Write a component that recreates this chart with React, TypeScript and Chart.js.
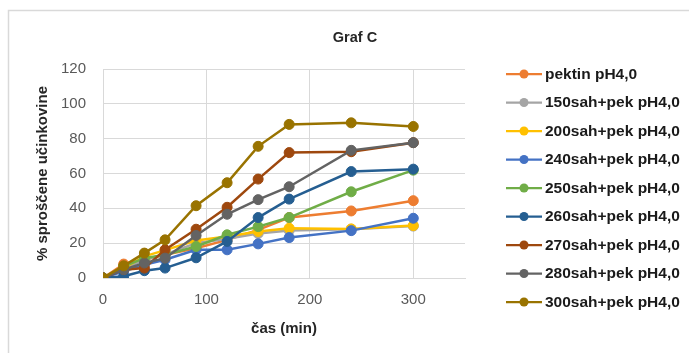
import React, { useEffect, useRef } from "react";
import { Chart, registerables } from "chart.js";

Chart.register(...registerables);

const times = [0, 20, 40, 60, 90, 120, 150, 180, 240, 300];

const seriesNames = [
  "pektin pH4,0",
  "150sah+pek pH4,0",
  "200sah+pek pH4,0",
  "240sah+pek pH4,0",
  "250sah+pek pH4,0",
  "260sah+pek pH4,0",
  "270sah+pek pH4,0",
  "280sah+pek pH4,0",
  "300sah+pek pH4,0",
];

const seriesColors = [
  "#ED7D31",
  "#A5A5A5",
  "#FFC000",
  "#4472C4",
  "#70AD47",
  "#255E91",
  "#9E480E",
  "#636363",
  "#997300",
];

const pektin = [0, 8, 10.5, 13.3, 17.1, 21.9, 27.6, 34.7, 38.5, 44.4];
const sah150 = [0, 5, 10.5, 13.5, 20, 22.5, 25.5, 27.3, 28, 29.8];
const sah200 = [0, 5.7, 12.4, 16, 21.5, 23.8, 26.7, 28.6, 28.2, 30.1];
const sah240 = [0, 3.8, 7.6, 10.5, 16.2, 16.2, 19.6, 23.2, 27.2, 34.3];
const sah250 = [0, 6.7, 11.4, 13.3, 18.1, 24.8, 29.5, 34.7, 49.5, 61.9];
const sah260 = [0, 1, 4.2, 5.7, 11.6, 21, 34.7, 45.3, 61.1, 62.5];
const sah270 = [0, 4.8, 5.7, 16.2, 28, 40.6, 56.8, 72, 72.5, 77.7];
const sah280 = [0, 4.8, 8.6, 11.4, 24.4, 36.6, 45, 52.4, 73.3, 77.7];
const sah300 = [0, 7, 14.3, 21.9, 41.5, 54.7, 75.6, 88.2, 89.1, 87.0];

const seriesValues = [pektin, sah150, sah200, sah240, sah250, sah260, sah270, sah280, sah300];

const xTicks = [0, 100, 200, 300];
const yTicks = [0, 20, 40, 60, 80, 100, 120];

const chartTitle = "Graf C";
const xTitle = "čas (min)";
const yTitle = "% sproščene učinkovine";

const FONT = "'Liberation Sans', Arial, sans-serif";

const framePlugin = {
  id: "frame",
  beforeDraw(chart: any) {
    const ctx = chart.ctx;
    ctx.save();
    ctx.fillStyle = "#ffffff";
    ctx.fillRect(0, 0, chart.width, chart.height);
    ctx.strokeStyle = "#d9d9d9";
    ctx.lineWidth = 1.5;
    ctx.strokeRect(8.5, 10.5, chart.width + 20, chart.height + 20);
    ctx.restore();
  },
  afterDraw(chart: any) {
    const ctx = chart.ctx;
    ctx.save();
    ctx.fillStyle = "#262626";
    ctx.font = `bold 14.5px ${FONT}`;
    ctx.textAlign = "center";
    ctx.textBaseline = "middle";
    ctx.fillText(chartTitle, 355, 38);

    chart.data.datasets.forEach((ds: any, i: number) => {
      const y = 74 + i * 28.5;
      ctx.strokeStyle = ds.borderColor;
      ctx.lineWidth = 2.25;
      ctx.beginPath();
      ctx.moveTo(506, y);
      ctx.lineTo(542, y);
      ctx.stroke();
      ctx.fillStyle = ds.borderColor;
      ctx.beginPath();
      ctx.arc(524, y, 4.5, 0, Math.PI * 2);
      ctx.fill();
      ctx.fillStyle = "#1a1a1a";
      ctx.font = `bold 15.5px ${FONT}`;
      ctx.textAlign = "left";
      ctx.textBaseline = "middle";
      ctx.fillText(ds.label, 545, y + 0.5);
    });
    ctx.restore();
  },
};

export default function App() {
  const canvasRef = useRef<HTMLCanvasElement | null>(null);

  useEffect(() => {
    if (!canvasRef.current) return;
    const n = seriesNames.length;
    const chart = new Chart(canvasRef.current, {
      type: "line",
      data: {
        datasets: seriesNames.map((name, i) => ({
          label: name,
          data: times.map((t, j) => ({ x: t, y: seriesValues[i][j] })),
          borderColor: seriesColors[i],
          backgroundColor: seriesColors[i],
          pointBackgroundColor: seriesColors[i],
          pointBorderColor: seriesColors[i],
          borderWidth: 2.5,
          pointRadius: 5,
          pointBorderWidth: 1,
          tension: 0,
          order: n - i,
        })),
      },
      options: {
        animation: false,
        responsive: false,
        maintainAspectRatio: false,
        layout: { padding: { top: 69, right: 224, left: 0, bottom: 0 } },
        plugins: {
          legend: { display: false },
          title: { display: false },
          tooltip: { enabled: false },
        },
        scales: {
          x: {
            type: "linear",
            min: 0,
            max: 350,
            afterBuildTicks: (scale: any) => {
              scale.ticks = xTicks.map((v) => ({ value: v }));
            },
            afterFit: (scale: any) => {
              scale.height = 75;
            },
            ticks: {
              padding: 13,
              color: "#595959",
              font: { family: FONT, size: 15 },
            },
            grid: { color: "#d9d9d9", lineWidth: 1, drawTicks: false },
            border: { color: "#d9d9d9", width: 1 },
            title: {
              display: true,
              text: xTitle,
              color: "#262626",
              font: { family: FONT, size: 15, weight: "bold" },
              padding: { top: 0, bottom: 15 },
            },
          },
          y: {
            type: "linear",
            min: 0,
            max: 120,
            afterBuildTicks: (scale: any) => {
              scale.ticks = yTicks.map((v) => ({ value: v }));
            },
            afterFit: (scale: any) => {
              scale.width = 103;
            },
            ticks: {
              padding: 17,
              color: "#595959",
              font: { family: FONT, size: 15 },
            },
            grid: { color: "#d9d9d9", lineWidth: 1, drawTicks: false },
            border: { display: false },
            title: {
              display: true,
              text: yTitle,
              color: "#262626",
              font: { family: FONT, size: 15, weight: "bold" },
              padding: { top: 34, bottom: 0 },
            },
          },
        },
      },
      plugins: [framePlugin],
    } as any);
    return () => chart.destroy();
  }, []);

  return (
    <div style={{ position: "fixed", left: 0, top: 0, width: 689, height: 353 }}>
      <canvas ref={canvasRef} width={689} height={353} style={{ width: 689, height: 353 }} />
    </div>
  );
}
